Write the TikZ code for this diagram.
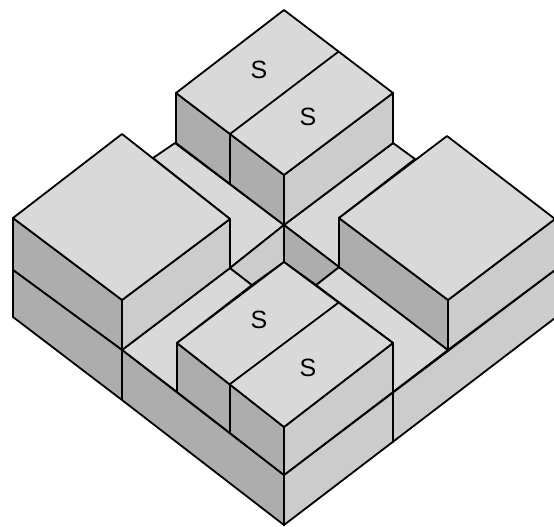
\documentclass[tikz,border=0pt]{standalone}
\usepackage{fontspec}
\setmainfont{Liberation Sans}
\definecolor{topc}{HTML}{D9D9D9}
\definecolor{rightc}{HTML}{CCCCCC}
\definecolor{leftc}{HTML}{ADADAD}
\tikzset{
  x=1pt,y=-1pt,
  edge/.style={draw=black,line width=1.8pt,line join=round,line cap=round},
  tp/.style={edge,fill=topc},
  rf/.style={edge,fill=rightc},
  lf/.style={edge,fill=leftc},
  vert/.style={draw=black,line width=2.6pt,line cap=round},
  lab/.style={font=\fontsize{25}{25}\selectfont,inner sep=0pt,text=black}
}
\begin{document}
\begin{tikzpicture}
\useasboundingbox (0,0) rectangle (554,527);
\fill[white] (0,0) rectangle (554,527);
% floor strips
\path[tp] (175,143) -- (284,225) -- (230,268) -- (230,219) -- (153,158) -- cycle;
\path[tp] (393,143) -- (415,159) -- (339,218) -- (339,267) -- (284,225) -- cycle;
\path[tp] (230,268) -- (252,285) -- (177,343) -- (177,392) -- (122,350) -- cycle;
\path[tp] (339,267) -- (448,350) -- (393,392) -- (393,343) -- (316,285) -- cycle;
% central pit
\path[rf] (284,225) -- (284,262) -- (252,285) -- (230,268) -- cycle;
\path[lf] (284,225) -- (339,267) -- (316,285) -- (284,262) -- cycle;
% base front
\path[lf] (122,350) -- (284,475) -- (284,525) -- (122,400) -- cycle;
\path[rf] (284,475) -- (555,270) -- (555,318) -- (284,525) -- cycle;
% left block
\path[lf] (13,218) -- (122,300) -- (122,350) -- (13,270) -- cycle;
\path[lf] (13,270) -- (122,350) -- (122,400) -- (13,317) -- cycle;
\path[rf] (122,300) -- (230,219) -- (230,268) -- (122,350) -- cycle;
\path[tp] (122,134) -- (230,219) -- (122,300) -- (13,218) -- cycle;
% right block
\path[lf] (339,218) -- (448,300) -- (448,350) -- (339,267) -- cycle;
\path[rf] (448,300) -- (555,219) -- (555,270) -- (448,350) -- cycle;
\path[tp] (447,136) -- (555,219) -- (448,300) -- (339,218) -- cycle;
% back S block
\path[lf] (176,93) -- (284,175) -- (284,225) -- (176,143) -- cycle;
\path[rf] (284,175) -- (393,93) -- (393,143) -- (284,225) -- cycle;
\path[tp] (284,10) -- (393,93) -- (284,175) -- (176,93) -- cycle;
\draw[edge] (338,52) -- (230,134);
% front S block
\path[lf] (177,343) -- (284,427) -- (284,475) -- (177,392) -- cycle;
\path[rf] (284,427) -- (393,343) -- (393,392) -- (284,475) -- cycle;
\path[tp] (284,262) -- (393,343) -- (284,427) -- (177,343) -- cycle;
\draw[edge] (338,303) -- (230,384);
% verticals
\draw[vert] (13,218) -- (13,317);
\draw[vert] (122,300) -- (122,400);
\draw[vert] (230,219) -- (230,268);
\draw[vert] (176,93) -- (176,143);
\draw[vert] (230,134) -- (230,183);
\draw[vert] (284,175) -- (284,262);
\draw[vert] (393,93) -- (393,143);
\draw[vert] (339,218) -- (339,267);
\draw[vert] (448,300) -- (448,350);
\draw[vert] (177,343) -- (177,392);
\draw[vert] (230,384) -- (230,433);
\draw[vert] (284,427) -- (284,525);
\draw[vert] (393,343) -- (393,442);
% labels
\node[lab] (s1) at (259,70) {S};
\node[lab] (s2) at (308,117) {S};
\node[lab] (s3) at (259,320) {S};
\node[lab] (s4) at (308,368) {S};
\end{tikzpicture}
\end{document}
